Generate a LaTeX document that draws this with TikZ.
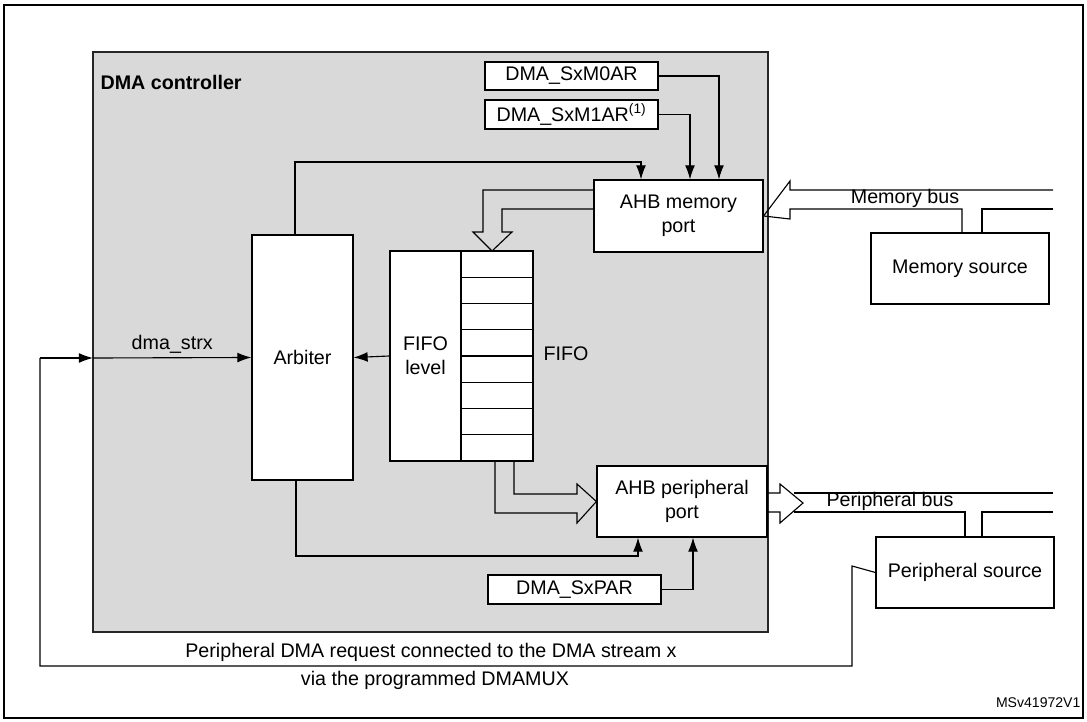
\documentclass[tikz,border=0pt]{standalone}
\usepackage{fontspec}
\setmainfont{Liberation Sans}
\usetikzlibrary{arrows.meta}
\begin{document}
\begin{tikzpicture}[x=0.025cm,y=-0.025cm,line width=0.8pt,
	box/.style={draw,fill=white,inner sep=0pt,align=center,font=\fontsize{14}{17}\selectfont},
	arr/.style={-{Latex[length=10pt,width=7pt]}},
	lbl/.style={inner sep=0pt,font=\fontsize{14}{17}\selectfont}]

	\useasboundingbox (0,0) rectangle (1087,722);

	% Frame and controller
	\draw[line width=1.2pt] (4,5) rectangle (1083,718);
	\fill[gray!30] (93,52) rectangle (768,632);
	\draw[line width=1.6pt,black!85] (93,52) rectangle (768,632);
	\node[lbl,anchor=west,font=\fontsize{14}{17}\selectfont\bfseries] (ctrl) at (100,82) {DMA controller};

	% Blocks
	\node[box,minimum width=4.325cm,minimum height=0.7cm] (m0ar) at (571.5,76) {DMA\_SxM0AR};
	\node[box,minimum width=4.325cm,minimum height=0.725cm] (m1ar) at (571.5,114.5) {DMA\_SxM1AR\textsuperscript{(1)}};
	\node[box,minimum width=4.225cm,minimum height=1.8cm] (memport) at (678.5,216) {AHB memory\\port};
	\node[box,minimum width=2.525cm,minimum height=6.125cm] (arbiter) at (302.5,357.5) {Arbiter};
	\node[box,minimum width=1.775cm,minimum height=5.25cm] (level) at (425.5,356) {FIFO\\level};
	\node[box,minimum width=4.25cm,minimum height=1.775cm] (perport) at (682,501.5) {AHB peripheral\\port};
	\node[box,minimum width=4.325cm,minimum height=0.725cm] (par) at (574.5,589.5) {DMA\_SxPAR};
	\node[box,minimum width=4.45cm,minimum height=1.775cm] (memsrc) at (960,268.5) {Memory source};
	\node[box,minimum width=4.45cm,minimum height=1.775cm] (persrc) at (965,572.5) {Peripheral source};

	% FIFO cells
	\fill[white] (461,251) rectangle (533,461);
	\draw (461,251) rectangle (533,461);
	\foreach \i in {1,...,7} {
		\draw (461,251+26.25*\i) -- (533,251+26.25*\i);
	}
	\node[lbl,anchor=west] (fifo) at (543,354) {FIFO};

	% Control connectors
	\draw[arr] (m0ar.east) -| (719,0 |- memport.north);
	\draw[arr] (m1ar.east) -| (690,0 |- memport.north);
	\draw[arr] (295,0 |- arbiter.north) |- (641,162) -- (641,0 |- memport.north);
	\draw[arr] (296,0 |- arbiter.south) |- (638,556) -- (638,0 |- perport.south);
	\draw[arr] (par.east) -| (693,0 |- perport.south);
	\draw[arr] (level.west) -- (arbiter.east);
	\draw[arr] (40,358) -- (93,358);
	\draw[arr] (93,358) -- node[lbl,above=3pt] (strx) {dma\_strx} (arbiter.west);
	\draw (persrc.west) -- (852,566) -- (852,666) -- (40,666) -- (40,358);

	% Data paths (hollow arrows)
	\draw (memport.west |- 0,190) -- (483,190) -- (483,232) -- (473,232) -- (492,251)
		-- (512,232) -- (502,232) -- (502,209) -- (memport.west |- 0,209);
	\draw (495,461) -- (495,513) -- (577,513) -- (577,523) -- (perport.west)
		-- (577,484) -- (577,494) -- (514,494) -- (514,461);
	\draw (memport.east) -- (790,181) -- (790,190) -- (1053,190);
	\draw (memport.east) -- (790,219) -- (790,209) -- (962,209) -- (962,0 |- memsrc.north);
	\draw (982,0 |- memsrc.north) -- (982,209) -- (1053,209);
	\node[lbl] (membus) at (905,198) {Memory bus};
	\draw (perport.east |- 0,493) -- (780,493) -- (780,484) -- (803,503) -- (780,523)
		-- (780,512) -- (perport.east |- 0,512);
	\draw (794,493) -- (1053,493);
	\draw (794,512) -- (965,512) -- (965,0 |- persrc.north);
	\draw (982,0 |- persrc.north) -- (982,512) -- (1053,512);
	\node[lbl] (perbus) at (890,501) {Peripheral bus};

	% Notes
	\node[lbl] (req) at (431,652) {Peripheral DMA request connected to the DMA stream x};
	\node[lbl] (mux) at (435,680) {via the programmed DMAMUX};
	\node[lbl,anchor=east,font=\fontsize{10}{12}\selectfont] (ref) at (1081,703) {MSv41972V1};

\end{tikzpicture}
\end{document}
